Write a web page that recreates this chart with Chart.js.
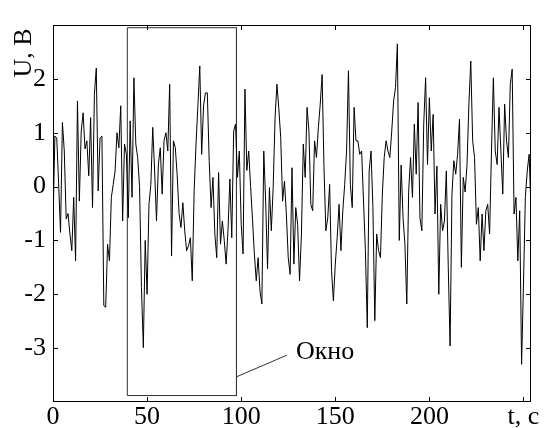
<!DOCTYPE html>
<html lang="ru">
<head>
    <meta charset="UTF-8">
    <title>U(t)</title>
    <script src="https://cdn.jsdelivr.net/npm/chart.js"></script>
    <style>
        body {
            margin: 0;
            background-color: #fff;
        }
        .wrap {
            width: 547px;
            height: 428px;
        }
    </style>
</head>
<body>
    <div class="wrap">
        <canvas id="chart" width="547" height="428"></canvas>
    </div>

    <script>
        // signal samples, one per second starting at t = 0
        const signalU = [
            -0.7, 0.94, 0.9, 0.05, -0.85, 1.19, 0.66, -0.6, -0.5, -0.88,
            -1.19, -0.2, -1.38, 1.59, -0.27, 1.03, 1.37, 0.7, 0.85, 0.2,
            1.28, -0.39, 1.71, 2.2, -0.08, 0.9, 0.94, -2.21, -2.24, -1.07,
            -1.38, -0.2, 0.04, 0.29, 1.0, 0.72, 1.5, -0.64, 0.79, 0.6,
            -0.58, 1.22, -0.2, 2.02, 0.79, 0.54, 0.0, -1.87, -2.99, -1.0,
            -2.0, -0.33, 0.04, 1.1, 0.29, -0.64, 0.41, 0.72, -0.14, 0.85,
            1.0, 0.66, 1.9, -1.29, 0.85, 0.72, 0.2, -0.5, -0.76, -0.3,
            -0.82, -1.19, -1.1, -0.95, -1.75, -0.08, 0.79, 1.5, 2.24, 0.6,
            1.5, 1.74, 1.74, 0.48, -0.39, 0.17, -0.88, -1.32, 0.26, -1.07,
            -0.64, -1.0, -1.44, -0.8, 0.14, -0.95, 1.03, 1.16, 0.17, 0.66,
            -0.7, -1.25, 1.81, 0.3, 0.66, 0.0, -0.6, -1.25, -1.75, -1.32,
            -1.94, -2.18, 0.66, -0.27, -1.53, -0.02, -0.82, -0.02, 1.28, 1.9,
            1.45, 0.91, -0.27, 0.1, -0.51, -1.32, -1.63, 0.35, -1.44, -0.39,
            -0.7, -1.75, -0.9, 0.79, 0.17, 1.47, 1.03, -0.33, -0.45, 0.85,
            0.54, 1.09, 1.53, 2.08, 0.35, -0.82, -0.58, 0.04, -1.56, -2.12,
            -1.44, -0.95, -0.33, -1.19, -0.45, 0.04, 0.66, 2.15, 0.04, -0.39,
            1.47, 0.85, 0.85, 0.6, 0.66, -0.27, -1.19, -2.62, 0.29, 0.66,
            -0.39, -2.49, -0.88, -1.19, -1.32, -0.14, 0.54, 0.85, 0.66, 0.54,
            1.03, 1.59, 1.84, 2.65, -1.0, 0.4, -0.58, -1.07, -2.18, -0.08,
            0.54, -0.2, 1.16, 0.23, 1.56, -0.58, -0.82, 1.16, 2.02, 0.41,
            1.65, 0.66, 1.34, -0.51, 0.38, -2.0, -0.33, -0.82, -0.64, 0.29,
            -1.44, -2.96, -0.14, 0.48, 0.23, 0.6, 1.25, -1.5, 0.17, -0.1,
            0.41, 1.53, 2.33, 0.85, 0.54, -0.7, -0.39, -1.38, -0.51, -1.19,
            -0.45, -0.33, -0.88, 0.66, 2.02, 0.66, 0.41, 1.47, 0.66, -0.14,
            1.53, 0.85, 0.54, 1.9, 2.18, -0.51, -0.2, -1.38, -0.45, -3.3,
            -1.81, -0.2, 0.29, 0.6, -0.45
        ];

        const xTicks = [0, 50, 100, 150, 200, 250];
        const yTicks = [-3, -2, -1, 0, 1, 2];
        const xRange = [0, 254];
        const yRange = [-4, 3];

        // "Окно" window: t from/to, U from/to
        const windowT = [39.5, 97.5];
        const windowU = [-3.88, 2.95];
        const leaderT = [97.7, 124.3];
        const leaderU = [-3.53, -3.13];
        const windowLabel = 'Окно';
        const xTitle = 't, c';
        const yTitle = 'U, B';

        const serif = '"Liberation Serif", "Times New Roman", serif';

        const points = signalU.map((u, i) => ({ x: i, y: u }));
        const windowBox = [
            { x: windowT[0], y: windowU[0] },
            { x: windowT[0], y: windowU[1] },
            { x: windowT[1], y: windowU[1] },
            { x: windowT[1], y: windowU[0] },
            { x: windowT[0], y: windowU[0] }
        ];
        const leader = [
            { x: leaderT[0], y: leaderU[0] },
            { x: leaderT[1], y: leaderU[1] }
        ];

        // box, inward ticks on all sides, and the free text
        const framePlugin = {
            id: 'frame',
            afterDraw(chart) {
                const { ctx, chartArea: a, scales: { x, y } } = chart;
                ctx.save();
                ctx.strokeStyle = '#000';
                ctx.lineWidth = 1;
                ctx.strokeRect(a.left + 0.5, a.top + 0.5, a.width - 1, a.height - 1);
                ctx.beginPath();
                xTicks.forEach(v => {
                    const px = Math.round(x.getPixelForValue(v)) + 0.5;
                    ctx.moveTo(px, a.bottom);
                    ctx.lineTo(px, a.bottom - 5);
                    ctx.moveTo(px, a.top);
                    ctx.lineTo(px, a.top + 5);
                });
                yTicks.forEach(v => {
                    const py = Math.round(y.getPixelForValue(v)) + 0.5;
                    ctx.moveTo(a.left, py);
                    ctx.lineTo(a.left + 5, py);
                    ctx.moveTo(a.right, py);
                    ctx.lineTo(a.right - 5, py);
                });
                ctx.stroke();

                ctx.fillStyle = '#000';
                ctx.font = '26px ' + serif;
                ctx.textAlign = 'left';
                ctx.textBaseline = 'middle';
                ctx.fillText(windowLabel, x.getPixelForValue(leaderT[1]) + 9, y.getPixelForValue(leaderU[1]) - 3);

                ctx.translate(24, 53);
                ctx.rotate(-Math.PI / 2);
                ctx.textAlign = 'center';
                ctx.fillText(yTitle, 0, 0);
                ctx.restore();
            }
        };

        const ctx = document.getElementById('chart').getContext('2d');

        new Chart(ctx, {
            type: 'scatter',
            data: {
                datasets: [
                    {
                        data: points,
                        showLine: true,
                        borderColor: '#000',
                        borderWidth: 1,
                        pointRadius: 0,
                        tension: 0
                    },
                    {
                        data: windowBox,
                        showLine: true,
                        borderColor: '#333',
                        borderWidth: 1,
                        pointRadius: 0
                    },
                    {
                        data: leader,
                        showLine: true,
                        borderColor: '#333',
                        borderWidth: 1,
                        pointRadius: 0
                    }
                ]
            },
            options: {
                responsive: false,
                animation: false,
                layout: { padding: { top: 25, right: 16, left: 0, bottom: 0 } },
                plugins: {
                    legend: { display: false },
                    tooltip: { enabled: false }
                },
                scales: {
                    x: {
                        type: 'linear',
                        min: xRange[0],
                        max: xRange[1],
                        grid: { display: false, drawTicks: false },
                        border: { display: false },
                        afterBuildTicks: s => { s.ticks = xTicks.map(v => ({ value: v })); },
                        afterFit: s => { s.height = 26; },
                        ticks: {
                            padding: 0,
                            color: '#000',
                            maxRotation: 0,
                            font: { family: serif, size: 26 },
                            callback: v => (v === 250 ? xTitle : String(v))
                        }
                    },
                    y: {
                        min: yRange[0],
                        max: yRange[1],
                        grid: { display: false, drawTicks: false },
                        border: { display: false },
                        afterBuildTicks: s => { s.ticks = yTicks.map(v => ({ value: v })); },
                        afterFit: s => { s.width = 53; },
                        ticks: {
                            padding: 7,
                            color: '#000',
                            font: { family: serif, size: 26 }
                        }
                    }
                }
            },
            plugins: [framePlugin]
        });
    </script>
</body>
</html>
